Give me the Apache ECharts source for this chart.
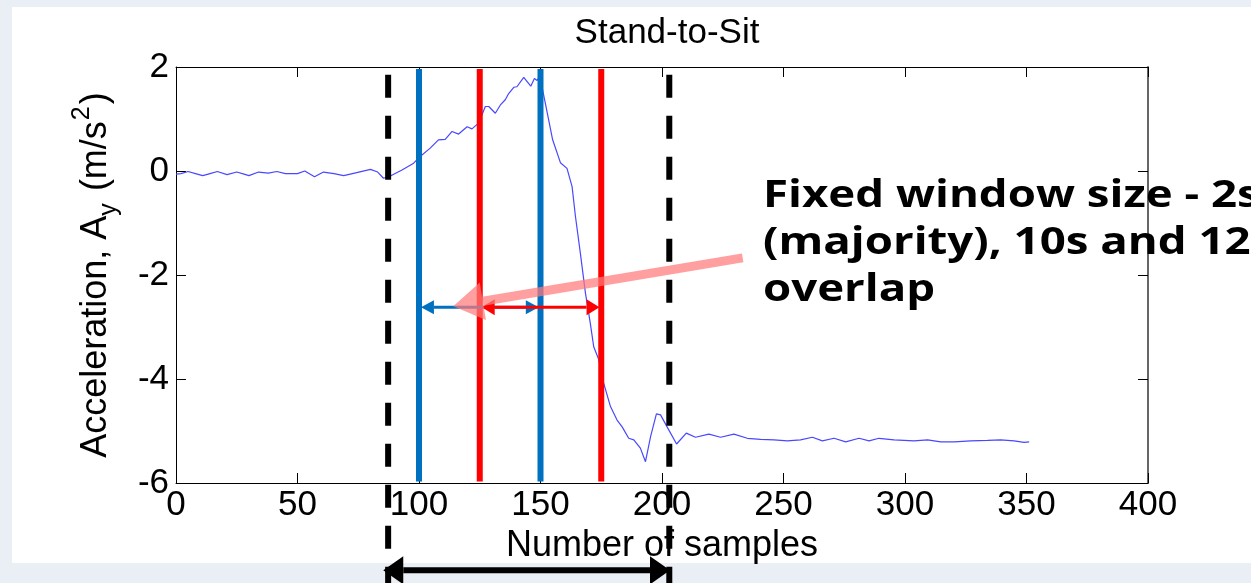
<!DOCTYPE html>
<html>
<head>
<meta charset="utf-8">
<script src="https://cdn.jsdelivr.net/npm/echarts@6/dist/echarts.min.js"></script>
<style>
html,body{margin:0;padding:0;width:1251px;height:583px;overflow:hidden;background:#eaeff6;}
#panel{position:absolute;left:12px;top:7px;width:1239px;height:556px;background:#fff;}
#chart{position:absolute;left:0;top:0;width:1251px;height:583px;}
</style>
</head>
<body>
<div id="panel"></div>
<div id="chart"></div>
<script>
// ---- data ----
const titleText = 'Stand-to-Sit';
const xTicks = [0, 50, 100, 150, 200, 250, 300, 350, 400];
const yTicks = [-6, -4, -2, 0, 2];
const sampleX = [0,2,5,8,11,14,17,21,25,28,30,34,38,41.5,45,50,53,57,60.7,65,69,74.4,80,83,85.4,88,93,97.8,100.5,104.6,108,110.8,113.6,116.3,119.8,121.8,124.5,127.3,128.7,131.4,133.5,135.5,136.9,139,140.3,143.1,146,147.5,148.6,149.7,152,155,158.2,160.9,163,164.4,166.4,168.5,170.5,171.9,174,176,178.8,181.5,183.6,186.3,188.4,191.1,193.2,195.3,197.7,199.4,202.1,206,210,213.8,219.3,224.1,229.6,235.1,240.6,246.1,251.6,257,261.9,266,270.8,275.6,281.1,285.2,289.3,295.5,303.7,309.3,314.7,320.2,327.1,334,339.4,344.9,349,351.1];
const accelY = [-0.06,-0.05,-0.01,-0.05,-0.09,-0.05,-0.01,-0.07,-0.02,-0.06,-0.09,-0.02,-0.04,-0.01,-0.05,-0.05,0.0,-0.11,-0.02,-0.05,-0.09,-0.03,0.03,-0.02,-0.14,-0.1,0.02,0.15,0.28,0.44,0.6,0.61,0.76,0.71,0.85,0.81,0.92,1.24,1.24,1.11,1.27,1.37,1.49,1.61,1.62,1.80,1.63,1.78,1.74,1.83,1.30,0.6,0.16,0.05,-0.30,-0.88,-1.58,-2.35,-2.93,-3.38,-3.63,-4.08,-4.53,-4.79,-4.92,-5.14,-5.17,-5.33,-5.59,-5.11,-4.67,-4.69,-4.92,-5.25,-5.04,-5.12,-5.06,-5.12,-5.06,-5.14,-5.16,-5.17,-5.19,-5.17,-5.12,-5.19,-5.14,-5.21,-5.14,-5.19,-5.14,-5.17,-5.19,-5.17,-5.21,-5.21,-5.19,-5.18,-5.17,-5.19,-5.22,-5.21];
// window boundary lines: [x, yTop, yBottom]
const activityBounds = [[87.3, 1.85, -8.3], [203, 1.85, -8.3]];
const blueWindows = [[100, 1.96, -5.97], [150, 1.96, -5.97]];
const redWindows = [[125, 1.96, -5.97], [175, 1.96, -5.97]];
// double arrows: [xStart, xEnd, y]
const blueSpan = [[100.8, 149.3, -2.62]];
const redSpan = [[125.8, 174.3, -2.62]];
const activitySpan = [[85.3, 203.3, -7.68]];
// callout arrow: [xTail, yTail, xTip, yTip]
const calloutArrow = [[233.2, -1.67, 114.1, -2.60]];
const annotationLines = ['Fixed window size - 2s', '(majority), 10s and 12s', 'overlap'];
const xName = 'Number of samples';

// ---- helpers ----
function arrowShapes(p1, p2, o) {
  const dx = p2[0]-p1[0], dy = p2[1]-p1[1];
  const L = Math.sqrt(dx*dx+dy*dy);
  const ux = dx/L, uy = dy/L, nx = -uy, ny = ux;
  const kids = [];
  const s = o.double ? [p1[0]+ux*o.headLen, p1[1]+uy*o.headLen] : p1;
  const e = [p2[0]-ux*o.headLen, p2[1]-uy*o.headLen];
  kids.push({type:'line', shape:{x1:s[0],y1:s[1],x2:e[0],y2:e[1]}, style:{stroke:o.color, lineWidth:o.width, opacity:o.opacity}});
  kids.push({type:'polygon', shape:{points:[p2,[e[0]+nx*o.headHalf,e[1]+ny*o.headHalf],[e[0]-nx*o.headHalf,e[1]-ny*o.headHalf]]}, style:{fill:o.color, opacity:o.opacity}});
  if (o.double) {
    kids.push({type:'polygon', shape:{points:[p1,[s[0]+nx*o.headHalf,s[1]+ny*o.headHalf],[s[0]-nx*o.headHalf,s[1]-ny*o.headHalf]]}, style:{fill:o.color, opacity:o.opacity}});
  }
  return {type:'group', children:kids};
}
function vlineSeries(data, color, width, dash, z) {
  return {
    type:'custom', data:data, clip:false, z:z, silent:true,
    encode:{x:0, y:[1,2]},
    renderItem:function(params, api){
      const a = api.coord([api.value(0), api.value(1)]);
      const b = api.coord([api.value(0), api.value(2)]);
      return {type:'line', shape:{x1:a[0],y1:a[1],x2:b[0],y2:b[1]}, style:{stroke:color, lineWidth:width, lineDash:dash||null}};
    }
  };
}
function spanSeries(data, o, z) {
  return {
    type:'custom', data:data, clip:false, z:z, silent:true,
    encode:{x:[0,1], y:2},
    renderItem:function(params, api){
      const a = api.coord([api.value(0), api.value(2)]);
      const b = api.coord([api.value(1), api.value(2)]);
      return arrowShapes(a, b, o);
    }
  };
}

const font = 'Liberation Sans, Arial, sans-serif';
const chart = echarts.init(document.getElementById('chart'), null, {renderer:'canvas'});
const axisLine = {show:true, onZero:false, lineStyle:{color:'#000', width:1}};
const tick = {inside:true, length:10, lineStyle:{color:'#000'}};
chart.setOption({
  backgroundColor:'transparent',
  animation:false,
  title:{text:titleText, left:662, top:11, textAlign:'center', textStyle:{fontFamily:font, fontWeight:'normal', fontSize:35, color:'#000'}},
  grid:{left:176, right:103, top:67, bottom:100},
  xAxis:[
    {type:'value', min:0, max:400, interval:50, position:'bottom',
     axisLine:axisLine, axisTick:tick, splitLine:{show:false},
     axisLabel:{fontFamily:font, fontSize:35, color:'#000', margin:5},
     name:xName, nameLocation:'middle', nameGap:37, nameTextStyle:{fontFamily:font, fontSize:36, color:'#000'}},
    {type:'value', min:0, max:400, interval:50, position:'top',
     axisLine:axisLine, axisTick:tick, axisLabel:{show:false}, splitLine:{show:false}}
  ],
  yAxis:[
    {type:'value', min:-6, max:2, interval:2, position:'left',
     axisLine:axisLine, axisTick:tick, splitLine:{show:false},
     axisLabel:{fontFamily:font, fontSize:35, color:'#000', margin:7},
     name:'{n|Acceleration, A}{sub|y}{n| (m/s}{sup|2}{n|)}', nameLocation:'middle', nameGap:54, nameRotate:90,
     nameTextStyle:{fontFamily:font, fontSize:36, color:'#000',
       rich:{n:{fontFamily:font, fontSize:36, color:'#000', lineHeight:52, verticalAlign:'middle'},
             sub:{fontFamily:font, fontSize:25, color:'#000', lineHeight:25, verticalAlign:'bottom', padding:[0,2,0,0]},
             sup:{fontFamily:font, fontSize:25, color:'#000', lineHeight:25, verticalAlign:'top', padding:[0,2,0,1]}}}},
    {type:'value', min:-6, max:2, interval:2, position:'right',
     axisLine:{show:true, onZero:false, lineStyle:{color:'#666', width:2}}, axisTick:tick, axisLabel:{show:false}, splitLine:{show:false}}
  ],
  series:[
    {type:'line', data:sampleX.map((x,i)=>[x, accelY[i]]), showSymbol:false, symbol:'none', z:2,
     lineStyle:{color:'#4848ff', width:1.2}, silent:true},
    vlineSeries(activityBounds, '#000', 6, [23,18], 3),
    vlineSeries(blueWindows, '#0070c0', 6, null, 4),
    vlineSeries(redWindows, '#ff0000', 6, null, 5),
    spanSeries(blueSpan, {color:'#0070c0', width:3, headLen:13, headHalf:7, double:true, opacity:1}, 6),
    spanSeries(redSpan, {color:'#ff0000', width:3, headLen:13, headHalf:8, double:true, opacity:1}, 7),
    spanSeries(activitySpan, {color:'#000', width:6, headLen:20, headHalf:14, double:true, opacity:1}, 8),
    {type:'custom', data:calloutArrow, clip:false, z:9, silent:true, encode:{x:[0,2], y:[1,3]},
     renderItem:function(params, api){
       const a = api.coord([api.value(0), api.value(1)]);
       const b = api.coord([api.value(2), api.value(3)]);
       return arrowShapes(a, b, {color:'#ff7a7a', width:9, headLen:30, headHalf:19, double:false, opacity:0.72});
     }}
  ],
  graphic:[
    {type:'text', x:763, y:173, scaleX:1.2, z:20, silent:true,
     style:{x:0, y:0, text:annotationLines.join('\n'), fontFamily:'Open Sans, sans-serif', fontWeight:'bold', fontSize:38, lineHeight:47, fill:'#000', verticalAlign:'top', align:'left'}}
  ]
});
</script>
</body>
</html>
